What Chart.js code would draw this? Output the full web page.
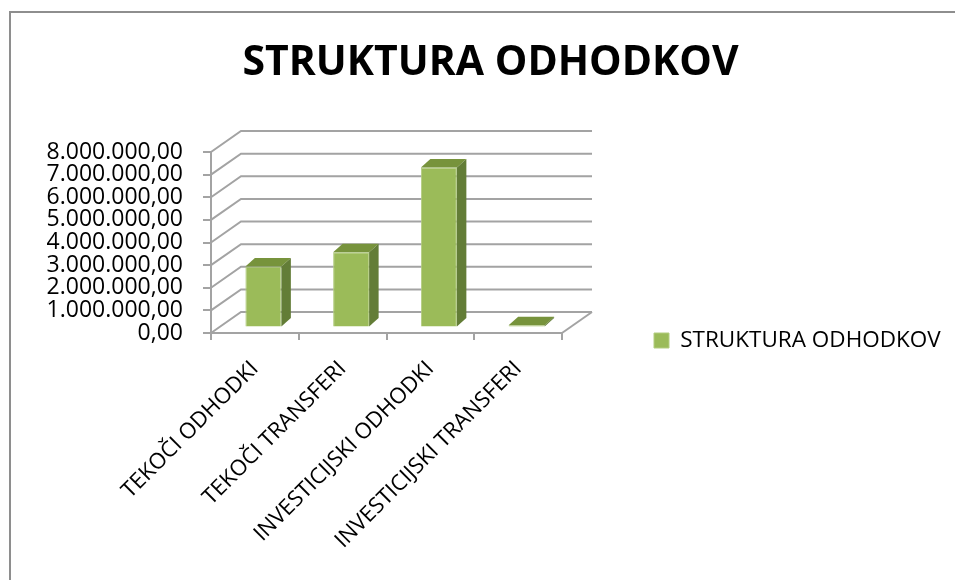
<!DOCTYPE html>
<html>
<head>
<meta charset="utf-8">
<script src="https://cdn.jsdelivr.net/npm/chart.js@4"></script>
<style>
    body { margin: 0; background: #fff; }
    #wrap { position: relative; width: 955px; height: 580px; overflow: hidden; background: #fff; }
    #frame { position: absolute; left: 9px; top: 11px; width: 1200px; height: 800px;
             border-left: 2px solid #8e8e8e; border-top: 2px solid #8e8e8e; }
    #chart { position: absolute; left: 0; top: 0; }
</style>
</head>
<body>
<div id="wrap">
    <div id="frame"></div>
    <canvas id="chart" width="955" height="580"></canvas>
</div>
<script>
const categories = ['TEKOČI ODHODKI', 'TEKOČI TRANSFERI', 'INVESTICIJSKI ODHODKI', 'INVESTICIJSKI TRANSFERI'];
const seriesName = 'STRUKTURA ODHODKOV';
const values = [2700000, 3330000, 7070000, 100000];
const yMax = 8000000;
const yStep = 1000000;

const gridColor = '#a3a3a3';
const frontColor = '#9bbb59';
const topColor = '#77933c';
const sideColor = '#637d37';

// fake 3d: back wall offset and bar offsets (pixels)
const wall = { dx: 30, dy: -21 };
const barShift = { dx: 8.5, dy: -5.5 };
const barDepth = { dx: 9.5, dy: -8.5 };

function formatNumber(v) {
    const s = Math.round(v).toString().replace(/\B(?=(\d{3})+(?!\d))/g, '.');
    return s + ',00';
}

const threeD = {
    id: 'threeD',
    beforeLayout(chart) {
        const lg = chart.legend;
        if (lg && !lg._patched) {
            const fit = lg.fit;
            lg.fit = function () {
                fit.call(this);
                this.width = 955 - 562;
            };
            lg._patched = true;
        }
    },
    afterLayout(chart) {
        const lg = chart.legend;
        lg.left = 640; lg.right = 955; lg.width = 315;
        lg.top = 319; lg.bottom = 362; lg.height = 43;
        // title sits a bit right of centre in the original
        const t = chart.titleBlock;
        if (t) { t.left += 13; t.right += 13; }
    },
    beforeDatasetsDraw(chart) {
        const { ctx, chartArea } = chart;
        const y = chart.scales.y;
        const L = chartArea.left, R = chartArea.right, B = chartArea.bottom;
        ctx.save();
        ctx.strokeStyle = gridColor;
        ctx.lineWidth = 2;
        for (let v = 0; v <= yMax; v += yStep) {
            const py = y.getPixelForValue(v);
            ctx.beginPath();
            ctx.moveTo(L, py);
            ctx.lineTo(L + wall.dx, py + wall.dy);
            ctx.lineTo(R + wall.dx, py + wall.dy);
            ctx.stroke();
        }
        // floor right edge
        ctx.beginPath();
        ctx.moveTo(R, B);
        ctx.lineTo(R + wall.dx, B + wall.dy);
        ctx.stroke();
        ctx.restore();

        ctx.save();
        ctx.translate(barShift.dx, barShift.dy);
    },
    afterDatasetsDraw(chart) {
        const { ctx } = chart;
        const meta = chart.getDatasetMeta(0);
        meta.data.forEach(el => {
            const { x, y, base, width } = el.getProps(['x', 'y', 'base', 'width'], true);
            const l = x - width / 2, r = x + width / 2;
            // top face
            ctx.fillStyle = topColor;
            ctx.beginPath();
            ctx.moveTo(l, y);
            ctx.lineTo(r, y);
            ctx.lineTo(r + barDepth.dx, y + barDepth.dy);
            ctx.lineTo(l + barDepth.dx, y + barDepth.dy);
            ctx.closePath();
            ctx.fill();
            // side face
            ctx.fillStyle = sideColor;
            ctx.beginPath();
            ctx.moveTo(r, y);
            ctx.lineTo(r + barDepth.dx, y + barDepth.dy);
            ctx.lineTo(r + barDepth.dx, base + barDepth.dy);
            ctx.lineTo(r, base);
            ctx.closePath();
            ctx.fill();
        });
        ctx.restore();
    }
};

new Chart(document.getElementById('chart'), {
    type: 'bar',
    data: {
        labels: categories,
        datasets: [{
            label: seriesName,
            data: values,
            backgroundColor: frontColor,
            borderColor: '#b3cd80',
            borderWidth: 1,
            categoryPercentage: 1,
            barPercentage: 0.41,
            clip: false
        }]
    },
    options: {
        responsive: false,
        animation: false,
        devicePixelRatio: 1,
        layout: { padding: 0 },
        plugins: {
            title: {
                display: true,
                text: 'STRUKTURA ODHODKOV',
                color: '#000',
                font: { family: 'Open Sans', size: 41, weight: 'bold' },
                padding: { top: 38.5, bottom: 64.3 }
            },
            legend: {
                position: 'right',
                labels: {
                    color: '#000',
                    font: { family: 'Open Sans', size: 22.5 },
                    boxWidth: 15,
                    boxHeight: 15,
                    padding: 14
                }
            },
            tooltip: { enabled: false }
        },
        scales: {
            x: {
                afterFit: s => { s.height = 580 - 333; },
                grid: { display: true, drawOnChartArea: false, drawTicks: true, tickLength: 7, color: gridColor, lineWidth: 2 },
                border: { display: true, color: gridColor, width: 2 },
                ticks: {
                    color: '#000',
                    font: { family: 'Open Sans', size: 22 },
                    minRotation: 45,
                    maxRotation: 45,
                    padding: 16
                }
            },
            y: {
                min: 0,
                max: yMax,
                afterFit: s => { s.width = 211; },
                grid: { display: true, drawOnChartArea: false, drawTicks: true, tickLength: 8, color: gridColor, lineWidth: 2 },
                border: { display: true, color: gridColor, width: 2 },
                ticks: {
                    stepSize: yStep,
                    autoSkip: false,
                    color: '#000',
                    font: { family: 'Open Sans', size: 23 },
                    padding: 20,
                    callback: v => formatNumber(v)
                }
            }
        }
    },
    plugins: [threeD]
});
</script>
</body>
</html>
